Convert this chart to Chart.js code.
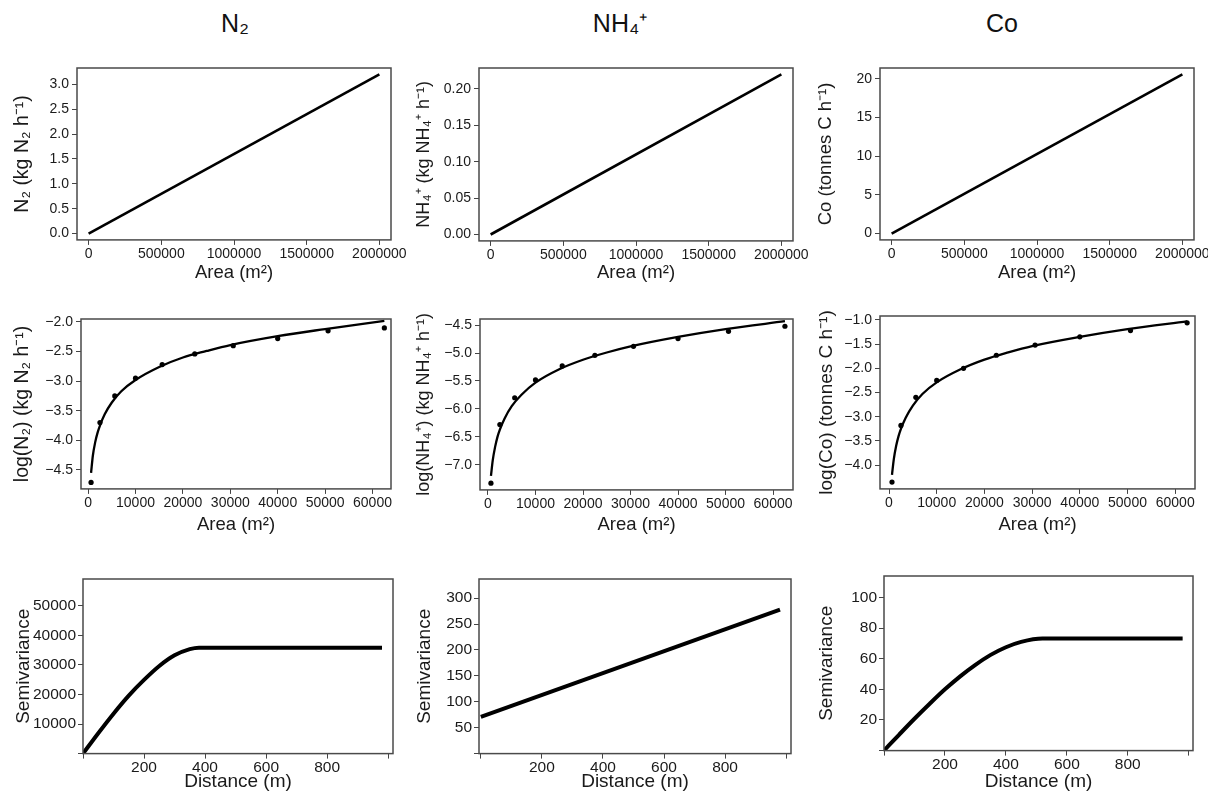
<!DOCTYPE html>
<html>
<head>
<meta charset="utf-8">
<script src="https://cdn.jsdelivr.net/npm/chart.js@4.4.1/dist/chart.umd.min.js"></script>
<style>
  html, body { margin: 0; padding: 0; background: #fff; }
  body { width: 1208px; height: 791px; position: relative; overflow: hidden; font-family: "Liberation Sans", Arial, sans-serif; }
  .panel { position: absolute; }
  .col-title { position: absolute; top: 8px; width: 200px; text-align: center; font-size: 25px; color: #111; line-height: 30px; }
</style>
</head>
<body>
<div class="col-title" style="left:135px">N₂</div>
<div class="col-title" style="left:520px">NH₄⁺</div>
<div class="col-title" style="left:902px">Co</div>
<script>
// top row: linear scaling of flux with area
const lineArea = [0, 2000000];
const n2Line = [0, 3.2];
const nh4Line = [0, 0.22];
const coLine = [0, 20.6];
const areaTicks = [0, 500000, 1000000, 1500000, 2000000];
const n2Ticks = [0, 0.5, 1, 1.5, 2, 2.5, 3];
const nh4Ticks = [0, 0.05, 0.1, 0.15, 0.2];
const coTicks = [0, 5, 10, 15, 20];

// middle row: log flux vs sample area
const sampleArea = [625, 2500, 5625, 10000, 15625, 22500, 30625, 40000, 50625, 62500];
const n2LogObs = [-4.71, -3.70, -3.25, -2.95, -2.72, -2.54, -2.40, -2.28, -2.15, -2.10];
const nh4LogObs = [-7.33, -6.28, -5.80, -5.48, -5.23, -5.04, -4.88, -4.74, -4.61, -4.52];
const coLogObs = [-4.35, -3.18, -2.60, -2.25, -2.00, -1.73, -1.52, -1.35, -1.22, -1.06];

const fitArea = [625, 1000, 1500, 2000, 2500, 3500, 5000, 7000, 10000, 15000, 20000, 25000, 30000, 40000, 50000, 62500];
const n2LogFit = [-4.55, -4.26, -4.03, -3.87, -3.75, -3.56, -3.36, -3.17, -2.98, -2.76, -2.60, -2.49, -2.39, -2.24, -2.12, -1.98];
const nh4LogFit = [-7.20, -6.92, -6.68, -6.50, -6.37, -6.17, -5.95, -5.75, -5.53, -5.29, -5.12, -4.99, -4.88, -4.71, -4.57, -4.43];
const coLogFit = [-4.20, -3.88, -3.60, -3.40, -3.25, -3.02, -2.77, -2.53, -2.29, -2.02, -1.82, -1.67, -1.54, -1.35, -1.19, -1.03];

const sampleAreaTicks = [0, 10000, 20000, 30000, 40000, 50000, 60000];
const n2LogTicks = [-4.5, -4, -3.5, -3, -2.5, -2];
const nh4LogTicks = [-7, -6.5, -6, -5.5, -5, -4.5];
const coLogTicks = [-4, -3.5, -3, -2.5, -2, -1.5, -1];

// bottom row: semivariograms
const n2Lag = [0, 50, 100, 150, 200, 250, 300, 350, 380, 980];
const n2Semivar = [0, 6900, 13500, 19600, 24900, 29600, 33200, 35300, 35800, 35800];
const nh4Lag = [0, 980];
const nh4Semivar = [71, 278];
const coLag = [0, 50, 100, 150, 200, 250, 300, 350, 400, 450, 520, 980];
const coSemivar = [0, 10.5, 20.8, 30.6, 40.0, 48.5, 56.0, 62.5, 67.5, 71.0, 73.2, 73.2];

const lagTicks = [0, 200, 400, 600, 800, 1000];
const n2SvTicks = [0, 10000, 20000, 30000, 40000, 50000];
const nh4SvTicks = [0, 50, 100, 150, 200, 250, 300];
const coSvTicks = [0, 20, 40, 60, 80, 100];

const FONT = '"Liberation Sans", Arial, sans-serif';
const INK = '#1a1a1a';
const pairs = (xs, ys) => xs.map((x, i) => ({x: x, y: ys[i]}));
const neg = s => s.replace('-', '\u2212');

const frame = {
  id: 'frame',
  afterDatasetsDraw(chart) {
    const {ctx, chartArea: a} = chart;
    ctx.save();
    ctx.strokeStyle = '#4a4a4a';
    ctx.lineWidth = 1.5;
    ctx.strokeRect(a.left, a.top, a.right - a.left, a.bottom - a.top);
    ctx.restore();
  }
};

function lineSet(data, width, smooth) {
  return {data: data, showLine: true, borderColor: '#000', borderWidth: width,
    pointRadius: 0, cubicInterpolationMode: smooth ? 'monotone' : 'default'};
}
function dotSet(data) {
  return {data: data, showLine: false, pointRadius: 2.6, pointBackgroundColor: '#000', pointBorderWidth: 0};
}

function axisOpts(a, size, fit) {
  return {
    type: 'linear', min: a.min, max: a.max,
    afterFit: fit,
    afterBuildTicks: s => { s.ticks = a.ticks.map(v => ({value: v})); },
    border: {display: false},
    grid: {drawOnChartArea: false, drawTicks: true, tickLength: 5, color: '#444', lineWidth: 1},
    ticks: {
      autoSkip: false, maxRotation: 0,
      padding: a.pad, color: INK, font: {family: FONT, size: size},
      callback: v => (a.hide || []).includes(v) ? '' : neg(a.fmt(v))
    },
    title: {display: true, text: a.title, color: INK, font: {family: FONT, size: a.tfs}, padding: 0}
  };
}

function panel(p) {
  const padTop = 14, padRight = 32;
  const canvasLeft = Math.round(p.yTitleX - 0.6 * p.y.tfs);
  const W = p.box.l - canvasLeft;
  const H = p.xTitleY - p.box.b + 0.6 * p.x.tfs;
  const div = document.createElement('div');
  div.className = 'panel';
  div.style.left = canvasLeft + 'px';
  div.style.top = (p.box.t - padTop) + 'px';
  const cv = document.createElement('canvas');
  cv.width = W + (p.box.r - p.box.l) + padRight;
  cv.height = Math.ceil(padTop + (p.box.b - p.box.t) + H);
  div.appendChild(cv);
  document.body.appendChild(div);
  new Chart(cv, {
    type: 'scatter',
    data: {datasets: p.datasets},
    options: {
      responsive: false, animation: false, devicePixelRatio: 1, events: [],
      layout: {padding: {top: padTop, right: padRight, left: 0, bottom: 0}},
      plugins: {legend: {display: false}, tooltip: {enabled: false}},
      scales: {
        x: axisOpts(p.x, p.fs, s => { s.height = H; }),
        y: axisOpts(p.y, p.fs, s => { s.width = W; })
      }
    },
    plugins: [frame]
  });
}

const intFmt = v => String(v);
const oneDec = v => v.toFixed(1);
const areaX = {min: -80000, max: 2080000, ticks: areaTicks, fmt: intFmt, pad: 1, tfs: 18.5, title: 'Area (m²)'};

panel({box: {l: 77, t: 68, r: 391, b: 239}, yTitleX: 23, xTitleY: 272, fs: 14,
  x: areaX,
  y: {min: -0.128, max: 3.328, ticks: n2Ticks, fmt: oneDec, pad: 3, tfs: 19.5, title: 'N₂ (kg N₂ h⁻¹)'},
  datasets: [lineSet(pairs(lineArea, n2Line), 2.6)]});
panel({box: {l: 479, t: 68, r: 793, b: 240}, yTitleX: 424, xTitleY: 272, fs: 14,
  x: areaX,
  y: {min: -0.0088, max: 0.2288, ticks: nh4Ticks, fmt: v => v.toFixed(2), pad: 3, tfs: 18, title: 'NH₄⁺ (kg NH₄⁺ h⁻¹)'},
  datasets: [lineSet(pairs(lineArea, nh4Line), 2.6)]});
panel({box: {l: 880, t: 68, r: 1194, b: 239}, yTitleX: 826, xTitleY: 272, fs: 14,
  x: areaX,
  y: {min: -0.82, max: 21.42, ticks: coTicks, fmt: intFmt, pad: 3, tfs: 18.5, title: 'Co (tonnes C h⁻¹)'},
  datasets: [lineSet(pairs(lineArea, coLine), 2.6)]});

const logX = (min, max) => ({min: min, max: max, ticks: sampleAreaTicks, fmt: intFmt, pad: 1, tfs: 18.5, title: 'Area (m²)'});

panel({box: {l: 81, t: 319, r: 391, b: 488}, yTitleX: 23, xTitleY: 524, fs: 14,
  x: logX(-1500, 63900),
  y: {min: -4.82, max: -1.95, ticks: n2LogTicks, fmt: oneDec, pad: 3, tfs: 19.5, title: 'log(N₂) (kg N₂ h⁻¹)'},
  datasets: [lineSet(pairs(fitArea, n2LogFit), 2.3, true), dotSet(pairs(sampleArea, n2LogObs))]});
panel({box: {l: 480, t: 319, r: 793, b: 489}, yTitleX: 424, xTitleY: 524, fs: 14,
  x: logX(-1680, 64200),
  y: {min: -7.45, max: -4.39, ticks: nh4LogTicks, fmt: oneDec, pad: 3, tfs: 18, title: 'log(NH₄⁺) (kg NH₄⁺ h⁻¹)'},
  datasets: [lineSet(pairs(fitArea, nh4LogFit), 2.3, true), dotSet(pairs(sampleArea, nh4LogObs))]});
panel({box: {l: 880, t: 316, r: 1195, b: 488}, yTitleX: 826, xTitleY: 524, fs: 14,
  x: logX(-1890, 64150),
  y: {min: -4.49, max: -0.92, ticks: coLogTicks, fmt: oneDec, pad: 3, tfs: 19, title: 'log(Co) (tonnes C h⁻¹)'},
  datasets: [lineSet(pairs(fitArea, coLogFit), 2.3, true), dotSet(pairs(sampleArea, coLogObs))]});

const distX = (min, max) => ({min: min, max: max, ticks: lagTicks, fmt: intFmt, hide: [0, 1000], pad: 0, tfs: 19, title: 'Distance (m)'});

panel({box: {l: 83, t: 579, r: 393, b: 753}, yTitleX: 23, xTitleY: 781, fs: 15.5,
  x: distX(0, 1016),
  y: {min: 0, max: 59000, ticks: n2SvTicks, fmt: intFmt, hide: [0], pad: 2, tfs: 19, title: 'Semivariance'},
  datasets: [lineSet(pairs(n2Lag, n2Semivar), 4, true)]});
panel({box: {l: 479, t: 579, r: 791, b: 753}, yTitleX: 424, xTitleY: 781, fs: 15.5,
  x: distX(-6, 1016),
  y: {min: 0, max: 337, ticks: nh4SvTicks, fmt: intFmt, hide: [0], pad: 2, tfs: 19, title: 'Semivariance'},
  datasets: [lineSet(pairs(nh4Lag, nh4Semivar), 4)]});
panel({box: {l: 884, t: 576, r: 1193, b: 750}, yTitleX: 826, xTitleY: 781, fs: 15.5,
  x: distX(0, 1014),
  y: {min: 0, max: 114, ticks: coSvTicks, fmt: intFmt, hide: [0], pad: 2, tfs: 19, title: 'Semivariance'},
  datasets: [lineSet(pairs(coLag, coSemivar), 4, true)]});
</script>
</body>
</html>
